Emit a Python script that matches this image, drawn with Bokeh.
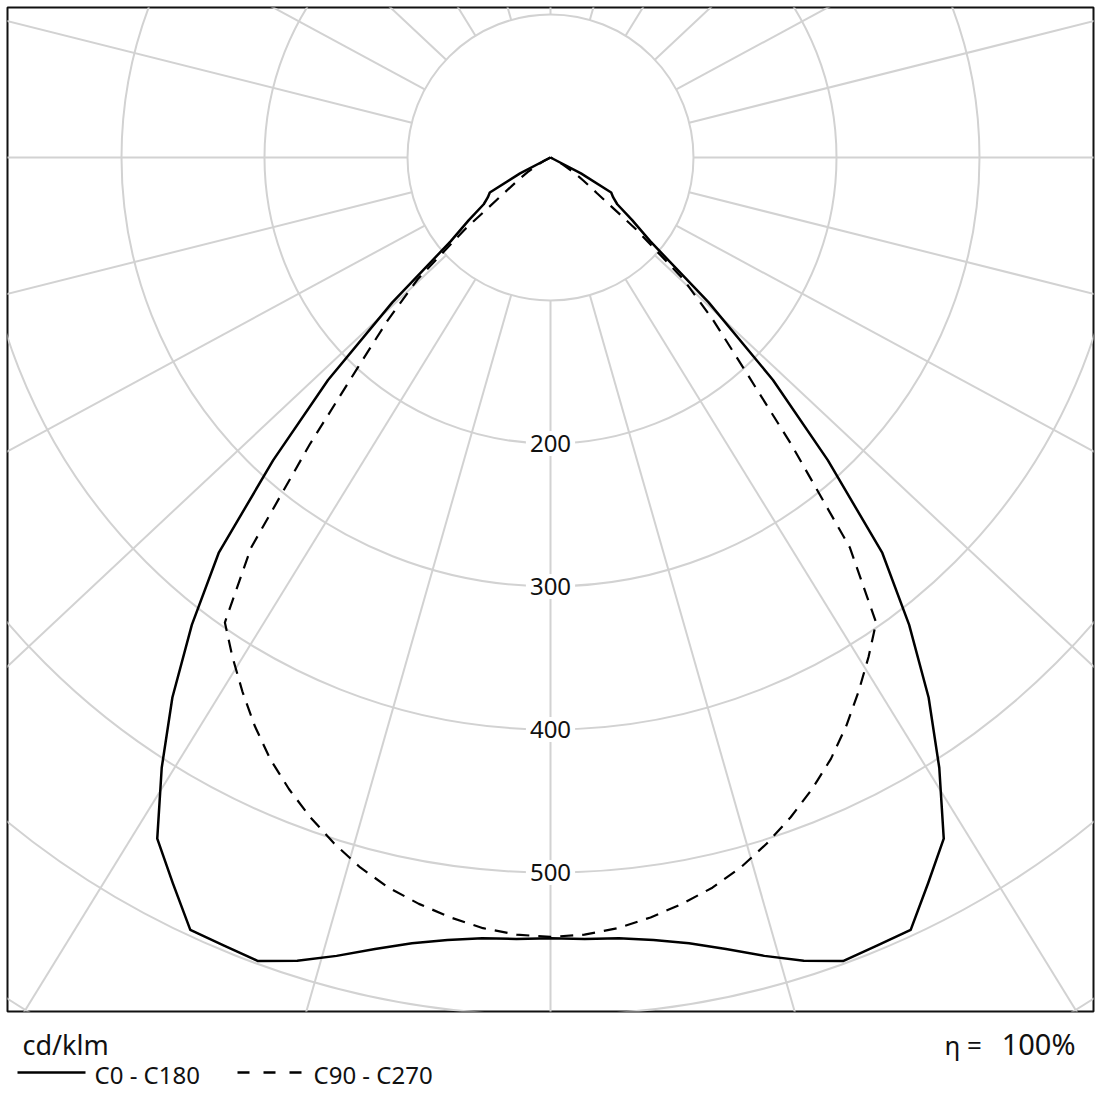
import numpy as np
from bokeh.plotting import figure
from bokeh.models import Range1d, Label
from bokeh.layouts import column
from bokeh.embed import file_html
from bokeh.resources import INLINE

# ---------------- data (cd/klm) ----------------
gamma = [0, 2.5, 5, 7.5, 10, 12.5, 15, 17.5, 20, 22.5, 25, 27.5, 30, 32.5, 35,
         37.5, 40, 42.5, 45, 47.5, 50, 52.5, 55, 57.5, 60, 62.5, 65]
c0_c180 = [546, 547, 548, 552, 558, 567, 578, 589, 598, 596.5, 596, 572, 550, 506, 461,
           412, 361, 287, 220, 150, 91, 72, 57, 52, 49, 24, 0]
c90_c270 = [545, 544, 541, 536, 530, 523, 514, 503, 491, 478, 464, 448, 431, 414, 397,
            344, 262, 200, 161, 126, 78, 41, 28, 19, 10, 5, 0]
rings = [100, 200, 300, 400, 500, 600, 700]
ring_labels = [200, 300, 400, 500]
spokes = list(range(0, 360, 15))
series_names = ["C0 - C180", "C90 - C270"]
unit_text = "cd/klm"
eta_value = "100%"

# ---------------- layout constants ----------------
SCALE = 1.43          # px per cd/klm
W1, H1 = 1100, 1013
MBL, MBR, MBT, MBB = 7, 7, 7, 2
frame_w, frame_h = W1 - MBL - MBR, H1 - MBT - MBB
cx_px, cy_px = 550 - MBL, 157 - MBT   # centre inside frame
GRID = "#d2d2d2"
FONT = "Noto Sans"

p = figure(width=W1, height=H1, output_backend="svg", toolbar_location=None,
           x_range=Range1d(-cx_px / SCALE, (frame_w - cx_px) / SCALE),
           y_range=Range1d(-(frame_h - cy_px) / SCALE, cy_px / SCALE),
           min_border_left=MBL, min_border_right=MBR, min_border_top=MBT,
           min_border_bottom=MBB, tools="")
p.xaxis.visible = False
p.yaxis.visible = False
p.grid.visible = False
p.outline_line_color = "#111111"
p.outline_line_width = 2
p.background_fill_color = "white"
p.border_fill_color = "white"

# rings
p.circle(x=[0] * len(rings), y=[0] * len(rings), radius=rings, radius_dimension="x",
         fill_color=None, line_color=GRID, line_width=2)

# spokes (starting at the inner ring)
K = 1.067
th = np.deg2rad(np.array(spokes, dtype=float))
dx = K * np.sin(th)
dy = -np.cos(th)
nn = np.hypot(dx, dy)
dx, dy = dx / nn, dy / nn
r0 = rings[0]
p.segment(x0=r0 * dx, y0=r0 * dy, x1=2000 * dx, y1=2000 * dy,
          line_color=GRID, line_width=2)

# curves
def polar_curve(vals):
    g = np.deg2rad(np.array(gamma, dtype=float))
    v = np.array(vals, dtype=float)
    xr = v * np.sin(g)
    yr = -v * np.cos(g)
    xs = np.concatenate([-xr[::-1], xr[1:]])
    ys = np.concatenate([yr[::-1], yr[1:]])
    return xs, ys

x1, y1 = polar_curve(c0_c180)
x2, y2 = polar_curve(c90_c270)
p.line(x1, y1, line_color="black", line_width=2.5, line_join="round")
p.line(x2, y2, line_color="black", line_width=2.2, line_dash="13 9")

# ring labels
for r in ring_labels:
    p.add_layout(Label(x=0, y=-r, text=str(r), text_align="center", text_baseline="middle",
                       text_font=FONT, text_font_size="24px", text_color="#111111",
                       background_fill_color="white", padding=4))

# ---------------- legend strip (coordinates: page px, y negated) ----------------
H2 = 85
p2 = figure(width=W1, height=H2, output_backend="svg", toolbar_location=None,
            x_range=Range1d(MBL, W1 - MBR), y_range=Range1d(-(H1 + H2), -H1),
            min_border_left=MBL, min_border_right=MBR, min_border_top=0,
            min_border_bottom=0, tools="")
p2.xaxis.visible = False
p2.yaxis.visible = False
p2.grid.visible = False
p2.outline_line_color = None
p2.background_fill_color = "white"
p2.border_fill_color = "white"

def lab(x, y, text, size, align="left"):
    p2.add_layout(Label(x=x, y=-y, text=text, text_font=FONT, text_font_size=size,
                        text_align=align, text_baseline="middle", text_color="#111111"))

lab(22, 1044, unit_text, "27px")
p2.line([17, 85], [-1072, -1072], line_color="black", line_width=2.5)
lab(94, 1074, series_names[0], "24px")
p2.line([237, 302], [-1072, -1072], line_color="black", line_width=2.5, line_dash="12 14")
lab(313, 1074, series_names[1], "24px")
lab(944, 1044, "η =", "26px")
lab(1075, 1043, eta_value, "29px", align="right")

layout = column(p, p2, spacing=0)
open("out.html", "w").write(file_html(layout, INLINE))
